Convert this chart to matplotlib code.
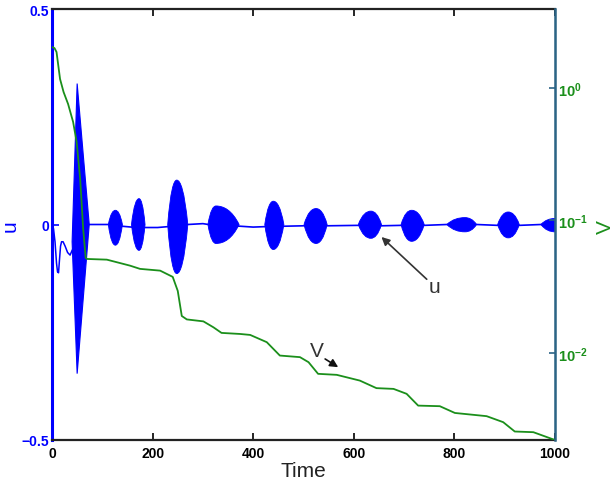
import matplotlib
matplotlib.use("Agg")
import matplotlib.pyplot as plt
from matplotlib.path import Path
from matplotlib.patches import PathPatch
from matplotlib.ticker import NullLocator

plt.rcParams['font.family'] = ['Liberation Sans', 'DejaVu Sans']
plt.rcParams['mathtext.fontset'] = 'custom'
plt.rcParams['mathtext.rm'] = 'Liberation Sans:bold'
plt.rcParams['mathtext.bf'] = 'Liberation Sans:bold'
plt.rcParams['mathtext.default'] = 'bf'

# ---------------- data ----------------
# initial transient of u (before first big burst)
pre_t = [0, 3, 6, 9, 11, 13, 15, 17, 19, 22, 26, 31, 36, 40]
pre_u = [0, -0.01, -0.04, -0.09, -0.11, -0.112, -0.08, -0.05, -0.04, -0.04, -0.05, -0.065, -0.071, -0.06]

# first big burst (envelope vertices: left, top, right, bottom)
big_t = [40, 50, 74, 50]
big_u = [-0.04, 0.327, 0.0, -0.346]

# baseline of u between bursts
base_t = [74, 100, 111, 139, 158, 185, 210, 230, 270, 300, 311, 374, 400, 423, 461,
          501, 547, 609, 655, 694, 740, 785, 844, 886, 929, 972, 1000]
base_u = [0.0, 0.0, 0.0, -0.004, -0.006, -0.007, -0.007, -0.005, 0.0, 0.002, 0.0, -0.004,
          -0.006, -0.005, -0.004, -0.003, -0.003, -0.002, -0.003, -0.002, -0.002, 0.0,
          0.0, -0.002, -0.002, 0.0, 0.0]

# later bursts of u: start, peak, end time; upper and lower envelope
burst_start = [112, 158, 230, 310, 423, 501, 609, 694, 785, 886, 972]
burst_peak = [126, 173, 248, 326, 440, 525, 634, 715, 821, 907, 1000]
burst_end = [140, 185, 270, 372, 461, 547, 655, 740, 844, 929, 1028]
burst_top = [0.033, 0.060, 0.103, 0.043, 0.054, 0.037, 0.031, 0.033, 0.016, 0.029, 0.014]
burst_bot = [-0.048, -0.060, -0.114, -0.044, -0.058, -0.044, -0.032, -0.039, -0.017, -0.031, -0.017]

# V (log scale)
V_t = [0, 5, 9, 16, 23, 32, 42, 49, 56, 62, 67, 70, 109, 155, 175, 215, 240, 250, 258, 268,
       301, 321, 337, 374, 394, 427, 453, 493, 510, 529, 566, 612, 645, 679, 705, 728, 771,
       801, 864, 897, 920, 957, 997, 1000]
V_v = [2.04, 2.0, 1.87, 1.17, 0.933, 0.757, 0.554, 0.391, 0.206, 0.0863, 0.0521, 0.0512,
       0.0506, 0.0456, 0.0431, 0.0418, 0.0375, 0.0294, 0.0190, 0.0179, 0.0173, 0.0156,
       0.01416, 0.0139, 0.01367, 0.01205, 0.00955, 0.00929, 0.00851, 0.00695, 0.00683,
       0.00618, 0.00542, 0.00535, 0.00491, 0.00400, 0.00396, 0.00352, 0.00333, 0.00300,
       0.00255, 0.00252, 0.00222, 0.0022]

x_ticks = [0, 200, 400, 600, 800, 1000]
u_ticks = [-0.5, 0, 0.5]
u_ticklabels = ['\u22120.5', '0', '0.5']
V_ticks = [1e-2, 1e-1, 1e0]
V_ticklabels = [r'$10^{-2}$', r'$10^{-1}$', r'$10^{0}$']

# ---------------- figure ----------------
BLUE = '#0000ff'
GREEN = '#1b8f1b'
RSPINE = '#2b6486'

fig = plt.figure(figsize=(6.15, 4.89), dpi=100)
ax = fig.add_axes([52 / 615, 48 / 489, 503 / 615, 431 / 489])

ax.plot(pre_t, pre_u, color=BLUE, lw=1.1)
ax.fill(big_t, big_u, facecolor=BLUE, edgecolor=BLUE, lw=0.8)
ax.plot(base_t, base_u, color=BLUE, lw=1.2)


def lens(s, p, e, top, bot):
    a = p - s
    b = e - p
    verts = [(s, 0),
             (s + 0.3 * a, 0.75 * top), (p - 0.35 * a, top), (p, top),
             (p + 0.35 * b, top), (e - 0.3 * b, 0.75 * top), (e, 0),
             (e - 0.3 * b, 0.75 * bot), (p + 0.35 * b, bot), (p, bot),
             (p - 0.35 * a, bot), (s + 0.3 * a, 0.75 * bot), (s, 0)]
    codes = [Path.MOVETO] + [Path.CURVE4] * 12
    return Path(verts, codes)


for s, p, e, tp, bt in zip(burst_start, burst_peak, burst_end, burst_top, burst_bot):
    patch = PathPatch(lens(s, p, e, tp, bt), facecolor=BLUE, edgecolor=BLUE, lw=0.6)
    ax.add_patch(patch)

ax.set_xlim(0, 1000)
ax.set_ylim(-0.5, 0.5)
ax.set_xticks(x_ticks)
ax.set_xticklabels([str(v) for v in x_ticks], fontsize=10, fontweight='bold')
ax.set_yticks(u_ticks)
ax.set_yticklabels(u_ticklabels, fontsize=10, fontweight='bold', color=BLUE)
ax.tick_params(axis='x', direction='in', length=5, width=1.2, top=True, pad=4)
ax.tick_params(axis='y', direction='in', length=5, width=1.2, colors=BLUE, pad=2)
ax.set_xlabel('Time', fontsize=15, color='#222222', labelpad=1)

ax.spines['left'].set_color(BLUE)
ax.spines['left'].set_linewidth(2.2)
ax.spines['bottom'].set_linewidth(1.6)
ax.spines['top'].set_linewidth(1.6)
ax.spines['bottom'].set_color('#222222')
ax.spines['top'].set_color('#222222')

ax2 = ax.twinx()
ax2.plot(V_t, V_v, color=GREEN, lw=1.3)
ax2.set_yscale('log')
ax2.set_ylim(2.2e-3, 3.95)
ax2.set_yticks(V_ticks)
ax2.set_yticklabels(V_ticklabels, fontsize=10.5, color=GREEN)
ax2.yaxis.set_minor_locator(NullLocator())
ax2.tick_params(axis='y', direction='in', length=4, width=1.2, colors=RSPINE,
                labelcolor=GREEN, pad=2)
ax2.spines['right'].set_color(RSPINE)
ax2.spines['right'].set_linewidth(1.8)
ax2.spines['left'].set_visible(False)
ax2.spines['top'].set_visible(False)
ax2.spines['bottom'].set_visible(False)
ax2.set_xlim(0, 1000)

# axis labels
fig.text(1 / 615, 1 - 226 / 489, 'u', rotation=90, ha='left', va='center',
         color=BLUE, fontsize=15)
fig.text(605 / 615, 1 - 227 / 489, 'V', rotation=90, ha='center', va='center',
         color=GREEN, fontsize=15)

# annotations
ax.annotate('', xy=(655, -0.029), xytext=(745, -0.127),
            arrowprops=dict(arrowstyle='-|>', color='#333333', lw=1.2,
                            mutation_scale=12, shrinkA=0, shrinkB=0))
ax.text(761, -0.144, 'u', fontsize=15, color='#333333', ha='center', va='center')

ax2.annotate('', xy=(569, 0.0078), xytext=(543, 0.0090),
             arrowprops=dict(arrowstyle='-|>', color='#111111', lw=1.2,
                             mutation_scale=12, shrinkA=0, shrinkB=0))
ax2.text(526, 0.0104, 'V', fontsize=15, color='#333333', ha='center', va='center')

fig.savefig('out.png', dpi=100)
